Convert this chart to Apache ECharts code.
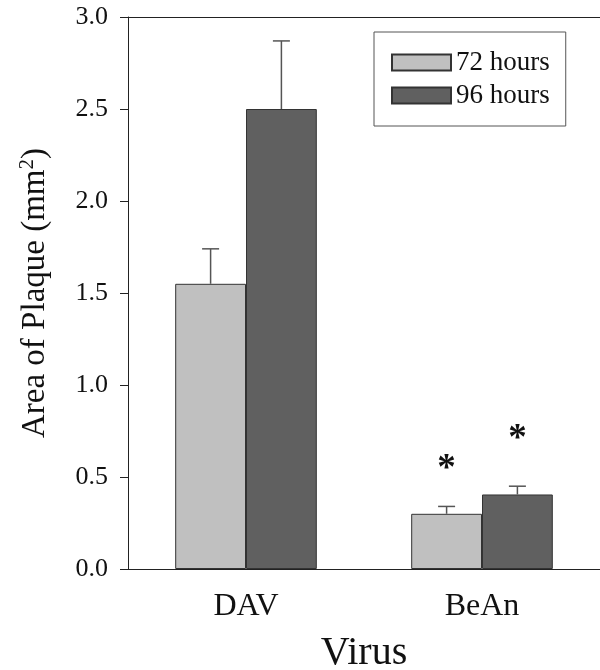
<!DOCTYPE html>
<html><head><meta charset="utf-8">
<script src="https://cdn.jsdelivr.net/npm/echarts@6/dist/echarts.min.js"></script>
<style>html,body{margin:0;padding:0;background:#fff}#c{width:600px;height:670px}</style>
</head><body><div id="c"></div>
<script>
const categories = ['DAV', 'BeAn'];
const seriesNames = ['72 hours', '96 hours'];
const mean72 = [1.55, 0.30];
const err72 = [0.19, 0.04];
const mean96 = [2.50, 0.405];
const err96 = [0.37, 0.045];
const star72 = [null, 0.57];
const star96 = [null, 0.73];
const yTicks = [0, 0.5, 1.0, 1.5, 2.0, 2.5, 3.0];

const FONT = 'Liberation Serif';
const colors = ['#c0c0c0', '#606060'];

function errRender(sIdx, stars) {
  return function (params, api) {
    const ci = api.value(0), m = api.value(1), e = api.value(2);
    const base = api.coord([ci, m]);
    const top = api.coord([ci, m + e]);
    const band = api.size([1, 0])[0];
    const bw = band * 0.3;
    const x = base[0] + (sIdx - 0.5) * bw;
    const cap = 8.5;
    const children = [
      {type: 'line', shape: {x1: x, y1: base[1], x2: x, y2: top[1]}, style: {stroke: '#555', lineWidth: 1.5}},
      {type: 'line', shape: {x1: x - cap, y1: top[1], x2: x + cap, y2: top[1]}, style: {stroke: '#555', lineWidth: 1.5}}
    ];
    const s = stars[params.dataIndex];
    if (s != null) {
      const p = api.coord([ci, s]);
      children.push({type: 'text', x: x, y: p[1] + 5, style: {text: '*', font: 'bold 37px ' + FONT, fill: '#111', align: 'center', verticalAlign: 'middle'}});
    }
    return {type: 'group', children: children};
  };
}

const chart = echarts.init(document.getElementById('c'), null, {renderer: 'canvas'});
chart.setOption({
  animation: false,
  backgroundColor: '#fff',
  textStyle: {fontFamily: FONT},
  grid: {left: 128, right: 0, top: 17, bottom: 101, outerBoundsMode: 'none', containLabel: false},
  legend: {
    data: seriesNames,
    orient: 'vertical',
    left: 374, top: 32,
    padding: [17, 16, 17, 17],
    backgroundColor: '#fff',
    borderColor: '#555', borderWidth: 1,
    icon: 'rect',
    itemWidth: 59, itemHeight: 16, itemGap: 6,
    textStyle: {fontFamily: FONT, fontSize: 27, color: '#111', lineHeight: 27}
  },
  xAxis: [{
    type: 'category', data: categories,
    name: 'Virus', nameLocation: 'middle', nameGap: 64,
    nameTextStyle: {fontFamily: FONT, fontSize: 40, color: '#111'},
    axisLine: {lineStyle: {color: '#222', width: 1}},
    axisTick: {show: false},
    axisLabel: {fontFamily: FONT, fontSize: 32, color: '#111', margin: 22}
  }, {
    type: 'category', data: categories, position: 'top',
    axisLine: {show: true, lineStyle: {color: '#222', width: 1}},
    axisTick: {show: false}, axisLabel: {show: false}
  }],
  yAxis: {
    type: 'value', min: 0, max: 3, interval: 0.5,
    name: 'Area of Plaque (mm{sup|2})', nameLocation: 'middle', nameGap: 74,
    nameTextStyle: {fontFamily: FONT, fontSize: 33, color: '#111',
      rich: {sup: {fontFamily: FONT, fontSize: 21, color: '#111', verticalAlign: 'top', padding: [0, 0, 16, 0]}}},
    axisLine: {show: true, lineStyle: {color: '#222', width: 1}},
    axisTick: {show: true, length: 8, lineStyle: {color: '#222'}},
    splitLine: {show: false},
    axisLabel: {fontFamily: FONT, fontSize: 26, color: '#111', margin: 20,
      formatter: v => yTicks.includes(v) ? v.toFixed(1) : ''}
  },
  series: [
    {name: seriesNames[0], type: 'bar', data: mean72, barGap: '0%', barCategoryGap: '40%',
     itemStyle: {color: colors[0], borderColor: '#333', borderWidth: 1}},
    {name: seriesNames[1], type: 'bar', data: mean96, barGap: '0%', barCategoryGap: '40%',
     itemStyle: {color: colors[1], borderColor: '#333', borderWidth: 1}},
    {type: 'custom', renderItem: errRender(0, star72), encode: {x: 0, y: 1}, z: 5,
     data: categories.map((c, i) => [i, mean72[i], err72[i]])},
    {type: 'custom', renderItem: errRender(1, star96), encode: {x: 0, y: 1}, z: 5,
     data: categories.map((c, i) => [i, mean96[i], err96[i]])}
  ]
});
</script></body></html>
